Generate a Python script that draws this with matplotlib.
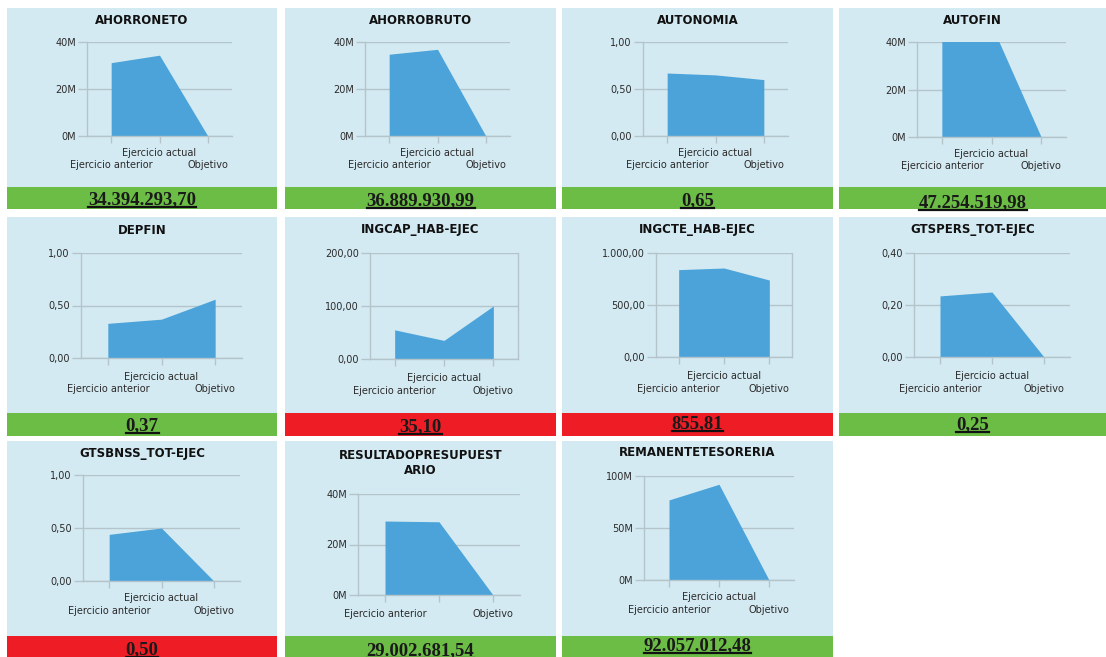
import matplotlib
matplotlib.use('Agg')
import matplotlib.pyplot as plt
from matplotlib.patches import Rectangle
from matplotlib.lines import Line2D
from matplotlib.transforms import IdentityTransform, ScaledTranslation

# ---------------- data ----------------
categories = ['Ejercicio anterior', 'Ejercicio actual', 'Objetivo']
titles = ['AHORRONETO', 'AHORROBRUTO', 'AUTONOMIA', 'AUTOFIN',
          'DEPFIN', 'INGCAP_HAB-EJEC', 'INGCTE_HAB-EJEC', 'GTSPERS_TOT-EJEC',
          'GTSBNSS_TOT-EJEC', 'RESULTADOPRESUPUEST\nARIO', 'REMANENTETESORERIA']
ahorroneto = [31.2e6, 34394293.70, 0]
ahorrobruto = [34.8e6, 36889930.99, 0]
autonomia = [0.67, 0.65, 0.60]
autofin = [44.0e6, 47254519.98, 0]
depfin = [0.33, 0.37, 0.56]
ingcap = [55.0, 35.10, 100.0]
ingcte = [840.0, 855.81, 740.0]
gtspers = [0.235, 0.25, 0]
gtsbnss = [0.44, 0.50, 0]
resultado = [29.3e6, 29002681.54, 0]
remanente = [77.0e6, 92057012.48, 0]
series = [ahorroneto, ahorrobruto, autonomia, autofin, depfin, ingcap,
          ingcte, gtspers, gtsbnss, resultado, remanente]
value_labels = ['34.394.293,70', '36.889.930,99', '0,65', '47.254.519,98',
                '0,37', '35,10', '855,81', '0,25',
                '0,50', '29.002.681,54', '92.057.012,48']
status = ['ok', 'ok', 'ok', 'ok', 'ok', 'bad', 'bad', 'ok', 'bad', 'ok', 'ok']
tick_values = [[0, 20e6, 40e6], [0, 20e6, 40e6], [0, 0.5, 1.0], [0, 20e6, 40e6],
               [0, 0.5, 1.0], [0, 100, 200], [0, 500, 1000], [0, 0.2, 0.4],
               [0, 0.5, 1.0], [0, 20e6, 40e6], [0, 50e6, 100e6]]
tick_labels = [['0M', '20M', '40M'], ['0M', '20M', '40M'], ['0,00', '0,50', '1,00'],
               ['0M', '20M', '40M'], ['0,00', '0,50', '1,00'], ['0,00', '100,00', '200,00'],
               ['0,00', '500,00', '1.000,00'], ['0,00', '0,20', '0,40'],
               ['0,00', '0,50', '1,00'], ['0M', '20M', '40M'], ['0M', '50M', '100M']]

# ---------------- layout (pixels) ----------------
W, H = 1106, 657
cols = [(7, 277), (285, 556), (562, 833), (839, 1106)]
rows = [(8, 209, 187, 20), (217, 436, 413, 230), (441, 657, 636, 453)]
# plot rect: left, right, top(max tick), bottom(zero)
plot_rects = [(87, 232, 42, 136), (365, 510, 42, 136), (643, 788, 42, 136), (917, 1066, 42, 137),
              (81, 242, 253, 358), (370, 518, 253, 359), (656, 792, 253, 357), (914, 1070, 253, 357),
              (83, 240, 475, 581), (358, 520, 494, 595), (644, 794, 476, 580)]
label_offsets = [(17, 29), (17, 29), (17, 29), (17, 29),
                 (19, 31.5), (19, 31.5), (19, 31.5), (19, 31.5),
                 (17, 30), (19, 19), (17, 30)]
baselines = [204, 205, 205, 207, 430, 431, 428, 429, 654, 655, 650]
right_border = [False, False, False, False, False, True, True, False, False, False, False]

BG = '#d4eaf2'
FILL = '#4ba3d9'
GREEN = '#6bbd45'
RED = '#ee1c25'
GRID = '#b4c4cb'
LABEL = '#2a2a2a'

fig = plt.figure(figsize=(W / 100, H / 100), dpi=100)
fig.patch.set_facecolor('white')
bg = fig.add_axes([0, 0, 1, 1])
bg.set_xlim(0, W)
bg.set_ylim(H, 0)
bg.axis('off')

value_texts = []
for i in range(len(titles)):
    r, c = divmod(i, 4)
    x0, x1 = cols[c]
    y0, y1, ybar, ytitle = rows[r]
    bg.add_patch(Rectangle((x0, y0), x1 - x0, ybar - y0, facecolor=BG, edgecolor='none'))
    bg.add_patch(Rectangle((x0, ybar), x1 - x0, y1 - ybar,
                           facecolor=GREEN if status[i] == 'ok' else RED, edgecolor='none'))
    ty = ytitle + (10 if '\n' in titles[i] else 0)
    bg.text((x0 + x1) / 2, ty, titles[i], ha='center', va='center', fontsize=8.5,
            fontweight='bold', color='#111111', family='DejaVu Sans', linespacing=1.25)
    t = bg.text((x0 + x1) / 2, baselines[i], value_labels[i], ha='center', va='baseline',
                fontsize=13.5, fontweight='bold', color='#1a1a1a', family='Liberation Serif')
    value_texts.append(t)

    l, rr, t_, b_ = plot_rects[i]
    ax = fig.add_axes([l / W, 1 - b_ / H, (rr - l) / W, (b_ - t_) / H])
    ax.patch.set_alpha(0)
    xs = list(range(len(categories)))
    ax.fill_between(xs, 0, series[i], color=FILL, linewidth=0, zorder=2)
    ax.set_xlim(-0.5, len(categories) - 0.5)
    ax.set_ylim(tick_values[i][0], tick_values[i][-1])
    ax.set_yticks(tick_values[i])
    ax.set_yticklabels(tick_labels[i])
    ax.set_xticks(xs)
    ax.set_xticklabels([])
    # staggered category labels
    d1, d2 = label_offsets[i]
    for k, cat in enumerate(categories):
        if i == 9 and k == 1:
            continue  # hidden in the reference (no room)
        dy = d1 if k == 1 else d2
        tr = ax.get_xaxis_transform() + ScaledTranslation(0, -dy / 100, fig.dpi_scale_trans)
        ax.text(xs[k], 0, cat, transform=tr, ha='center', va='center',
                fontsize=7, color=LABEL, clip_on=False)
    ax.yaxis.grid(True, color=GRID, linewidth=1, zorder=1)
    ax.set_axisbelow(True)
    for s in ['top', 'right']:
        ax.spines[s].set_visible(False)
    if right_border[i]:
        ax.spines['right'].set_visible(True)
    for s in ['left', 'bottom', 'right']:
        ax.spines[s].set_color(GRID)
        ax.spines[s].set_linewidth(1)
    ax.tick_params(axis='y', length=6.5, width=1, color=GRID, pad=1.5,
                   labelsize=7, labelcolor=LABEL)
    ax.tick_params(axis='x', length=5, width=1, color=GRID)

fig.canvas.draw()
renderer = fig.canvas.get_renderer()
for t in value_texts:
    bb = t.get_window_extent(renderer)
    y = bb.y0 + 1.5
    fig.add_artist(Line2D([bb.x0, bb.x1], [y, y], transform=IdentityTransform(),
                          color='#111111', linewidth=1.6))

fig.savefig('out.png', dpi=100, facecolor='white')
